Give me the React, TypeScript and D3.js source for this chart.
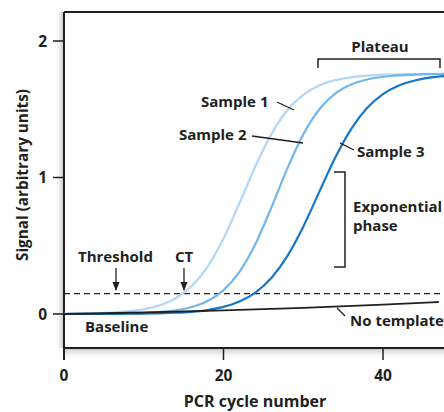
import React from 'react';
import * as d3 from 'd3';

// values (signal in arbitrary units per PCR cycle)
const cycles = [0, 2, 4, 6, 8, 10, 12, 14, 16, 18, 20, 22, 24, 26, 28, 30, 32, 34, 36, 38, 40, 42, 44, 46, 48];
const sample1 = [0.002, 0.003, 0.005, 0.01, 0.019, 0.035, 0.064, 0.115, 0.204, 0.346, 0.553, 0.811, 1.082, 1.318, 1.493, 1.606, 1.674, 1.713, 1.734, 1.746, 1.753, 1.756, 1.758, 1.759, 1.76];
const sample2 = [0.0, 0.001, 0.001, 0.002, 0.004, 0.007, 0.014, 0.027, 0.051, 0.095, 0.175, 0.309, 0.513, 0.779, 1.065, 1.315, 1.498, 1.614, 1.681, 1.718, 1.738, 1.748, 1.754, 1.757, 1.759];
const sample3 = [0.0, 0.0, 0.0, 0.001, 0.002, 0.003, 0.005, 0.009, 0.016, 0.029, 0.052, 0.091, 0.157, 0.264, 0.424, 0.64, 0.893, 1.144, 1.355, 1.509, 1.611, 1.674, 1.711, 1.733, 1.745];
const noTemplateCycles = [0, 10, 20, 30, 40, 47];
const noTemplate = [0, 0.011, 0.026, 0.045, 0.068, 0.088];
const threshold = 0.15;
const xTicks = [0, 20, 40];
const yTicks = [0, 1, 2];

const W = 444;
const H = 412;
const left = 64;
const top = 12;
const bottom = 348;
const font = "'Open Sans', 'DejaVu Sans', sans-serif";

export default function App() {
  const x = d3.scaleLinear().domain([0, 40]).range([64, 383]);
  const y = d3.scaleLinear().domain([0, 2]).range([314, 41]);

  const line = d3
    .line<[number, number]>()
    .x(d => x(d[0]))
    .y(d => y(d[1]))
    .curve(d3.curveMonotoneX);

  const series = [
    { values: sample1, color: '#b0d8f6' },
    { values: sample2, color: '#72b6ec' },
    { values: sample3, color: '#1876c6' },
  ];

  const ink = '#231f20';

  const label = (t: string, lx: number, ly: number, anchor = 'start') => (
    <text x={lx} y={ly} textAnchor={anchor} fontFamily={font} fontWeight={700} fontSize={15} fill={ink}>
      {t}
    </text>
  );

  return (
    <svg width={W} height={H} style={{ position: 'absolute', left: 0, top: 0 }}>
      <defs>
        <clipPath id="plot">
          <rect x={left} y={top} width={W - left} height={bottom - top} />
        </clipPath>
        <linearGradient id="shadeL" x1="1" x2="0" y1="0" y2="0">
          <stop offset="0" stopColor="#bdbdbd" />
          <stop offset="1" stopColor="#ffffff" stopOpacity={0} />
        </linearGradient>
        <linearGradient id="shadeB" x1="0" x2="0" y1="0" y2="1">
          <stop offset="0" stopColor="#c4c4c4" />
          <stop offset="1" stopColor="#ffffff" stopOpacity={0} />
        </linearGradient>
        <marker id="arrow" viewBox="0 0 10 10" refX="9" refY="5" markerWidth="7" markerHeight="7" orient="auto">
          <path d="M0,1 L10,5 L0,9 Z" fill={ink} />
        </marker>
      </defs>
      <rect width={W} height={H} fill="#fff" />

      {/* soft shadows along frame */}
      <rect x={left - 9} y={top} width={9} height={bottom - top} fill="url(#shadeL)" />
      <rect x={left} y={bottom} width={W - left} height={12} fill="url(#shadeB)" />

      {/* frame */}
      <line x1={left} x2={W} y1={top} y2={top} stroke={ink} strokeWidth={2} />
      <line x1={left} x2={left} y1={top} y2={bottom + 12} stroke={ink} strokeWidth={2} />
      <line x1={left} x2={W} y1={bottom} y2={bottom} stroke={ink} strokeWidth={2} />

      {/* y ticks */}
      {yTicks.map(t => (
        <g key={'y' + t}>
          <line x1={left - 11} x2={left} y1={y(t)} y2={y(t)} stroke={ink} strokeWidth={1.5} />
          <text x={left - 17} y={y(t)} dy="0.36em" textAnchor="end" fontFamily={font} fontWeight={700} fontSize={15.5} fill={ink}>
            {t}
          </text>
        </g>
      ))}
      {/* x ticks */}
      {xTicks.map(t => (
        <g key={'x' + t}>
          <line x1={x(t)} x2={x(t)} y1={bottom} y2={bottom + 12} stroke={ink} strokeWidth={1.5} />
          <text x={x(t)} y={381} textAnchor="middle" fontFamily={font} fontWeight={700} fontSize={15.5} fill={ink}>
            {t}
          </text>
        </g>
      ))}

      <text x={255} y={407} textAnchor="middle" fontFamily={font} fontWeight={700} fontSize={16} fill={ink}>
        PCR cycle number
      </text>
      <text
        transform={`translate(28,175) rotate(-90)`}
        textAnchor="middle"
        fontFamily={font}
        fontWeight={700}
        fontSize={15.3}
        fill={ink}
      >
        Signal (arbitrary units)
      </text>

      <g clipPath="url(#plot)">
        {/* threshold */}
        <line x1={left} x2={W} y1={y(threshold)} y2={y(threshold)} stroke={ink} strokeWidth={1.3} strokeDasharray="6,4" />
        {series.map((s, i) => (
          <path
            key={i}
            d={line(cycles.map((c, j) => [c, s.values[j]]) as [number, number][]) || ''}
            fill="none"
            stroke={s.color}
            strokeWidth={2.2}
          />
        ))}
        <path
          d={line(noTemplateCycles.map((c, j) => [c, noTemplate[j]]) as [number, number][]) || ''}
          fill="none"
          stroke={ink}
          strokeWidth={1.8}
        />
      </g>

      {/* plateau bracket */}
      <path d="M318,68 V59 H440 V68" fill="none" stroke={ink} strokeWidth={1.5} />
      {label('Plateau', 380, 52, 'middle')}

      {/* exponential phase bracket */}
      <path d="M334,172 H345 V267 H334" fill="none" stroke={ink} strokeWidth={1.5} />
      {label('Exponential', 353, 212)}
      {label('phase', 353, 231)}

      {/* sample labels */}
      {label('Sample 1', 201, 107)}
      <line x1={277} y1={102} x2={294} y2={110} stroke={ink} strokeWidth={1.3} />
      {label('Sample 2', 179, 140)}
      <line x1={252} y1={136} x2={303} y2={143} stroke={ink} strokeWidth={1.3} />
      {label('Sample 3', 357, 157)}
      <line x1={340} y1={143} x2={354} y2={150} stroke={ink} strokeWidth={1.3} />

      {label('Threshold', 78, 262)}
      <line x1={116} y1={268} x2={116} y2={290} stroke={ink} strokeWidth={1.3} markerEnd="url(#arrow)" />
      {label('CT', 175, 262)}
      <line x1={184} y1={268} x2={184} y2={290} stroke={ink} strokeWidth={1.3} markerEnd="url(#arrow)" />

      {label('Baseline', 85, 332)}
      {label('No template', 350, 326)}
      <line x1={337} y1={308} x2={345} y2={316} stroke={ink} strokeWidth={1.3} />
    </svg>
  );
}
